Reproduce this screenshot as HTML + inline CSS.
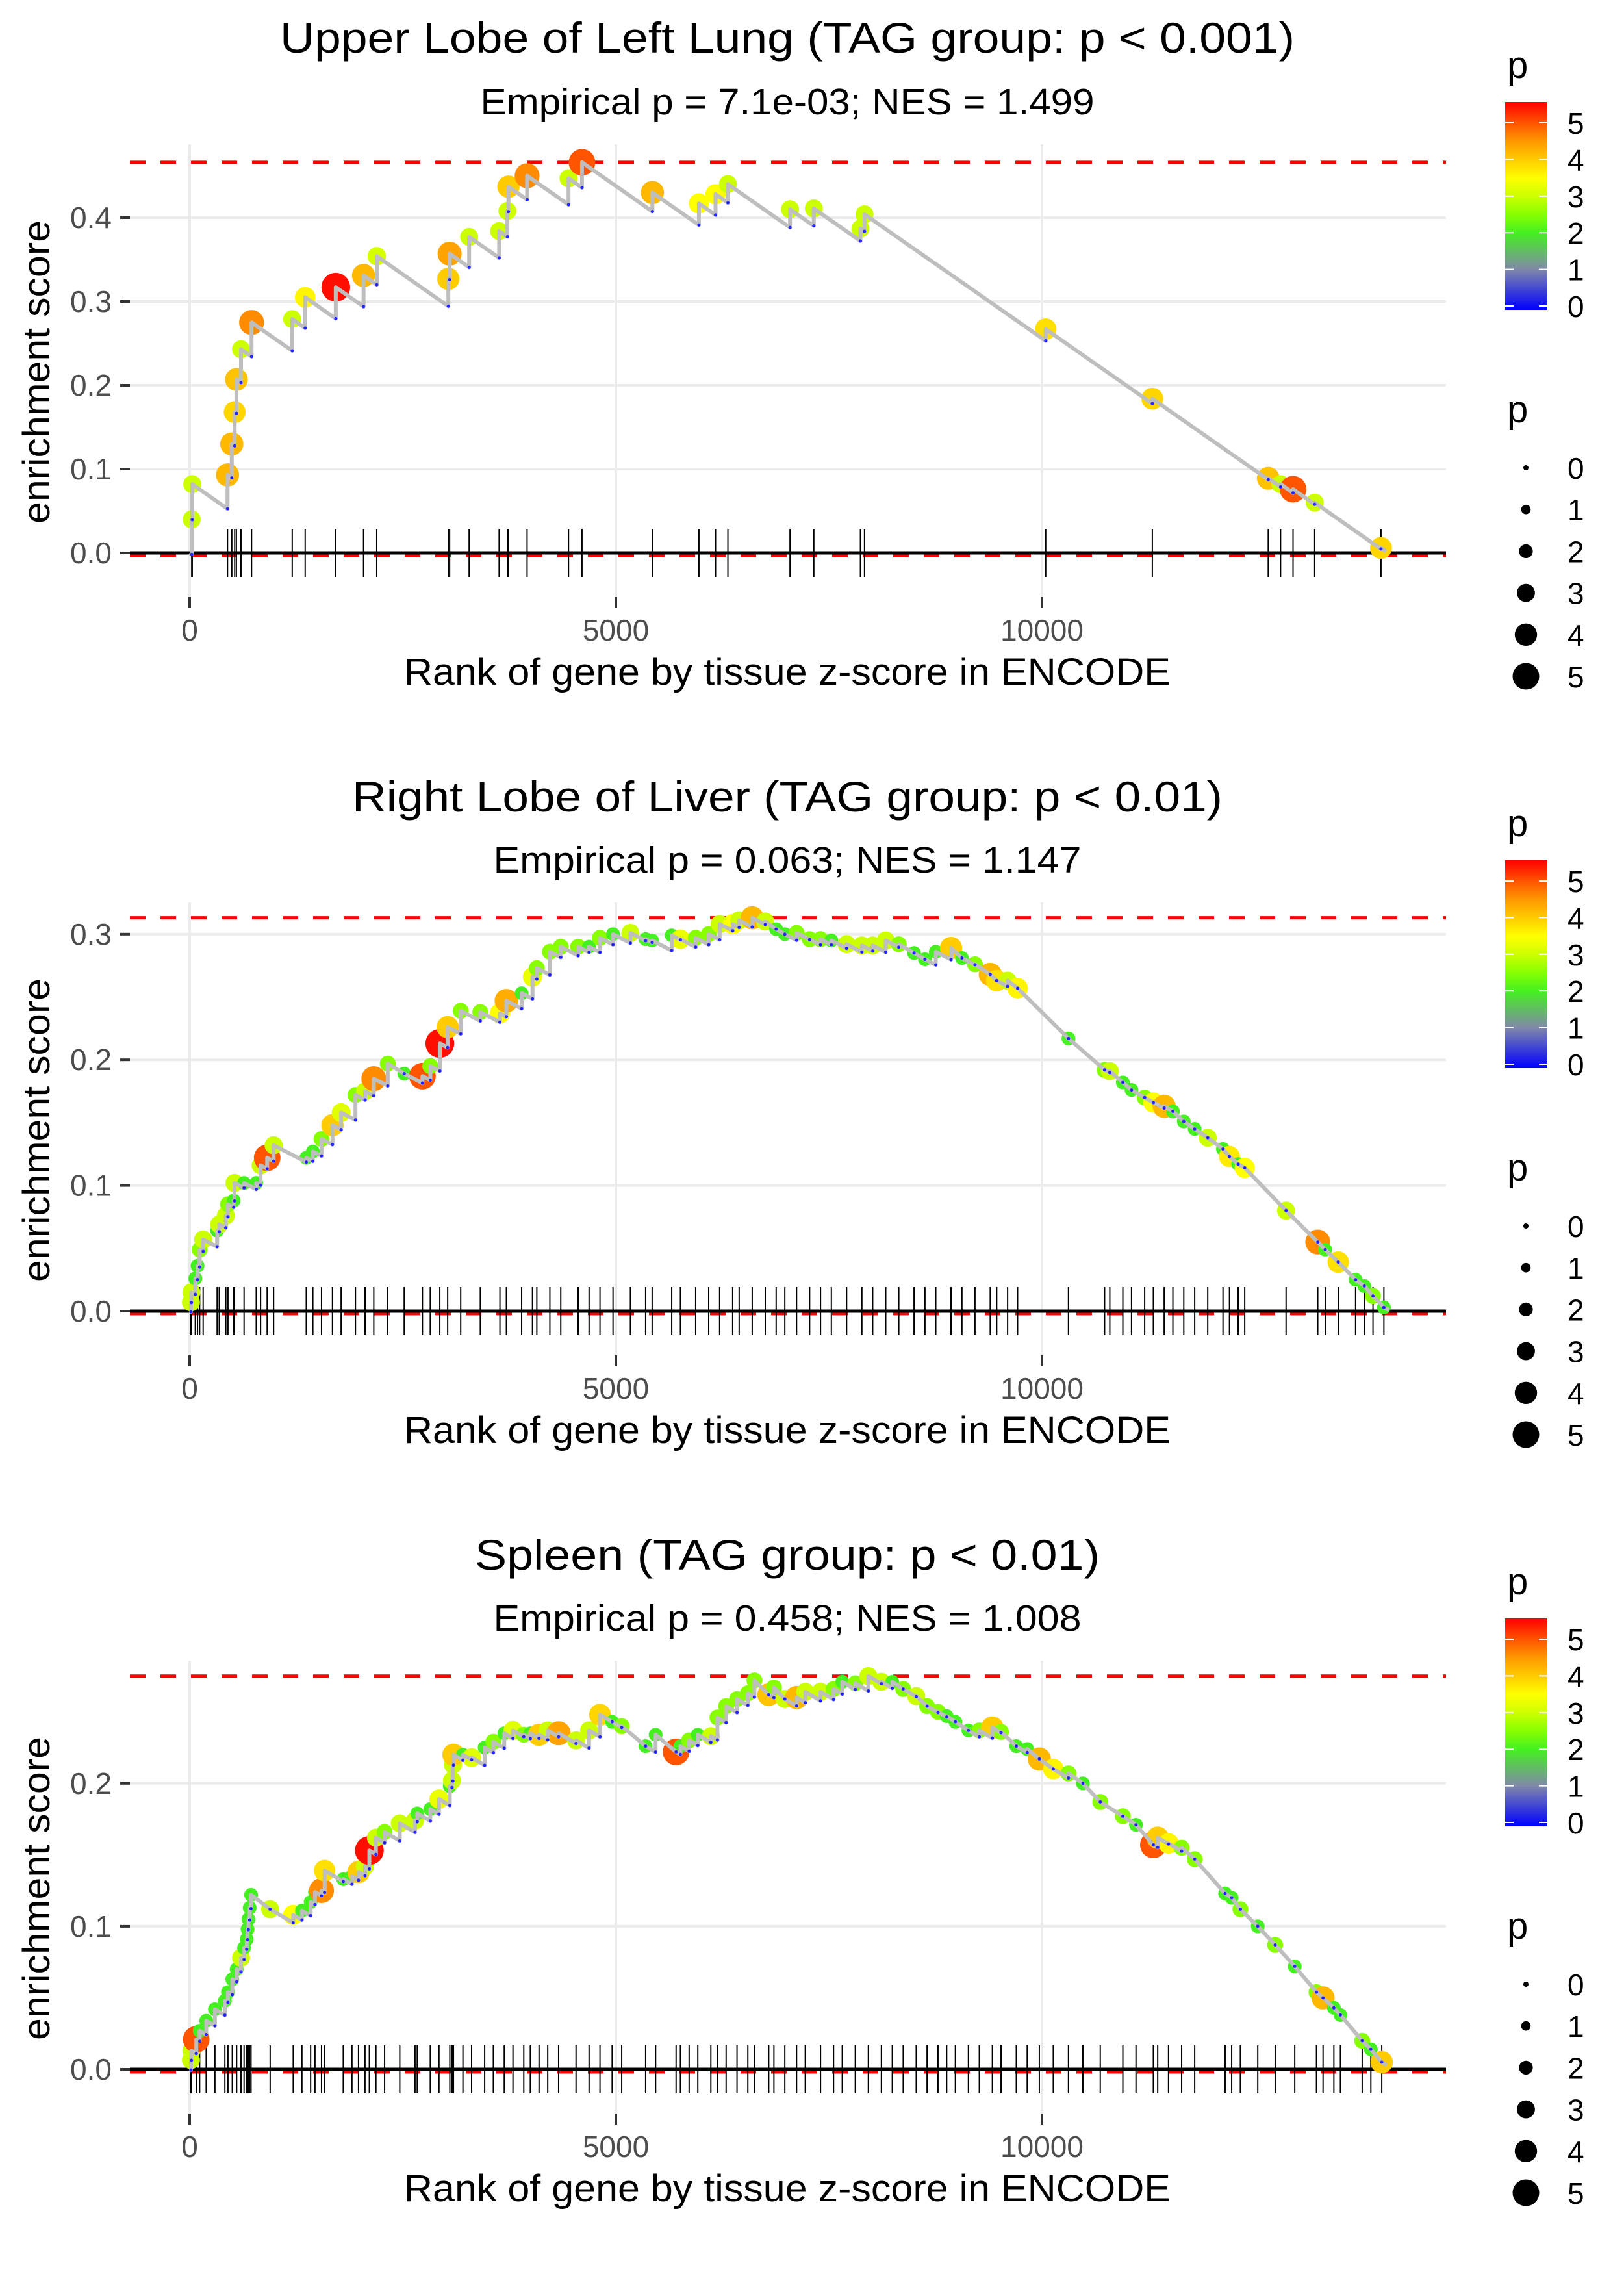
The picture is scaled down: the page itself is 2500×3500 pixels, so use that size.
<!DOCTYPE html>
<html><head><meta charset="utf-8"><title>GSEA enrichment plots</title>
<style>
html,body{margin:0;padding:0;background:#fff;}
svg{display:block;font-family:"Liberation Sans",Arial,sans-serif;}
.title{font-size:66px;fill:#000;}
.sub{font-size:57px;fill:#000;}
.axt{font-size:58px;fill:#000;}
.tick{font-size:46px;fill:#4d4d4d;}
.leg{font-size:46px;fill:#000;}
.legt{font-size:58px;fill:#000;}
</style></head>
<body>
<svg id="chart" width="2500" height="3500" viewBox="0 0 2500 3500" xmlns="http://www.w3.org/2000/svg">
<defs>
<linearGradient id="pgrad" x1="0" y1="1" x2="0" y2="0">
<stop offset="0" stop-color="#0000ff"/>
<stop offset="0.195" stop-color="#8088a8"/>
<stop offset="0.37" stop-color="#44f020"/>
<stop offset="0.46" stop-color="#88ff00"/>
<stop offset="0.546" stop-color="#ccff00"/>
<stop offset="0.634" stop-color="#ffff00"/>
<stop offset="0.722" stop-color="#ffcc00"/>
<stop offset="0.81" stop-color="#ff9900"/>
<stop offset="0.898" stop-color="#ff5500"/>
<stop offset="1" stop-color="#ff0000"/>
</linearGradient>
</defs>
<rect x="0" y="0" width="2500" height="3500" fill="#fff"/>

<text class="title" x="1212" y="81" text-anchor="middle" textLength="1562" lengthAdjust="spacingAndGlyphs">Upper Lobe of Left Lung (TAG group: p &lt; 0.001)</text>
<text class="sub" x="1212" y="176" text-anchor="middle" textLength="945" lengthAdjust="spacingAndGlyphs">Empirical p = 7.1e-03; NES = 1.499</text>
<text class="title" x="1212" y="1249" text-anchor="middle" textLength="1340" lengthAdjust="spacingAndGlyphs">Right Lobe of Liver (TAG group: p &lt; 0.01)</text>
<text class="sub" x="1212" y="1343" text-anchor="middle" textLength="905" lengthAdjust="spacingAndGlyphs">Empirical p = 0.063; NES = 1.147</text>
<text class="title" x="1212" y="2416" text-anchor="middle" textLength="962" lengthAdjust="spacingAndGlyphs">Spleen (TAG group: p &lt; 0.01)</text>
<text class="sub" x="1212" y="2510" text-anchor="middle" textLength="905" lengthAdjust="spacingAndGlyphs">Empirical p = 0.458; NES = 1.008</text>

<g id="panels"></g>
</svg>
<script>
// ---- Panel 1: Upper Lobe of Left Lung ----
const p1Ranks = [24,30,444,494,528,548,602,726,1203,1355,1714,2040,2195,3035,3050,3279,3631,3728,3740,3959,4445,4603,5429,5975,6170,6315,7044,7323,7870,7918,10044,11295,12655,12800,12946,13200,13978];
const p1ES = [.040,.082,.093,.130,.168,.207,.243,.275,.279,.305,.317,.331,.354,.327,.357,.377,.384,.408,.437,.450,.447,.466,.430,.417,.428,.440,.410,.411,.387,.404,.267,.184,.089,.082,.076,.060,.006];
const p1P = [3,3,4.2,4.2,3.9,4.1,3,4.6,3,3.6,5.5,4.2,3.1,4,4.4,3,3,3,4,4.6,3,5,4.2,3.5,3.5,3,3,3,3,3,3.8,3.9,4.1,3,5,3,3.9];
const p1YTicks = [0,0.1,0.2,0.3,0.4];

// ---- Panel 2: Right Lobe of Liver ----
const p2Ranks = [15,20,66,92,117,158,322,347,424,449,516,526,638,781,832,909,985,1368,1445,1547,1675,1777,1945,2058,2160,2324,2517,2731,2823,2935,3027,3180,3410,3640,3716,3895,4022,4073,4226,4354,4558,4686,4814,4967,5171,5350,5426,5656,5758,5937,6090,6218,6371,6447,6600,6753,6881,6983,7121,7274,7402,7529,7708,7887,8014,8167,8320,8499,8627,8754,8933,9061,9214,9393,9469,9597,9714,10311,10735,10796,10949,11051,11205,11307,11434,11536,11664,11792,11945,12124,12200,12302,12379,12864,13236,13323,13476,13680,13782,13884,14012];
const p2ES = [.007,.015,.026,.036,.049,.057,.064,.069,.076,.085,.088,.102,.102,.102,.116,.122,.132,.122,.127,.137,.148,.158,.172,.175,.185,.197,.189,.187,.195,.213,.226,.239,.238,.237,.247,.253,.266,.273,.286,.290,.290,.290,.297,.300,.301,.296,.295,.299,.296,.297,.300,.308,.308,.311,.313,.310,.304,.300,.301,.296,.296,.295,.292,.291,.291,.295,.292,.285,.280,.286,.289,.281,.276,.268,.263,.263,.257,.217,.192,.191,.182,.176,.170,.166,.163,.159,.151,.145,.138,.129,.123,.117,.114,.080,.055,.049,.039,.025,.020,.012,.003];
const p2P = [3,3,2,2,2.5,3,2,3,3,2.5,2,3,2,2,3,5,3,2,2,2.5,4,3.2,2.5,3,4.6,2.5,2,5,2.5,5.5,4,2.5,2.5,3.5,4.3,2,3.3,2.5,2.5,2.5,2.5,2,2.5,2,3,2,2,2,3.3,2.5,2.5,3,3.5,3,4.2,3,2,2,2.5,2.5,2.5,2,3,3,3,3,2.5,2,2,2,4,2,2.5,4.2,3.8,3,3.6,2,2.5,3,2,2,2.5,3.5,4.2,2,2,2,3,2,3.7,2,3.5,3,4.6,2,3.8,2,2,2.5,2];
const p2YTicks = [0,0.1,0.2,0.3];

// ---- Panel 3: Spleen ----
const p3Ranks = [15,20,77,117,194,296,413,449,500,551,602,638,669,679,689,704,720,944,1215,1317,1419,1470,1547,1583,1802,1904,1981,2057,2108,2185,2287,2465,2644,2670,2823,2925,3052,3078,3088,3095,3206,3308,3461,3563,3691,3793,3920,3997,4099,4201,4329,4533,4686,4814,4957,5069,5350,5467,5707,5758,5860,5962,6115,6192,6294,6422,6549,6626,6794,6855,6983,7121,7223,7402,7555,7657,7810,7963,8116,8244,8372,8525,8652,8780,8882,8984,9137,9265,9418,9520,9699,9827,9969,10133,10311,10480,10684,10949,11103,11307,11358,11485,11639,11792,12149,12226,12328,12532,12736,12966,13221,13298,13425,13502,13757,13859,13987];
const p3ES = [.0065,.013,.021,.027,.034,.042,.048,.054,.063,.070,.078,.085,.091,.098,.105,.113,.122,.112,.108,.111,.117,.124,.125,.139,.133,.135,.138,.142,.153,.162,.166,.172,.174,.179,.182,.189,.198,.202,.213,.220,.220,.218,.225,.229,.235,.237,.234,.235,.234,.237,.235,.230,.237,.248,.243,.240,.226,.234,.222,.226,.230,.234,.233,.246,.254,.259,.263,.272,.262,.267,.259,.260,.264,.264,.266,.271,.270,.275,.271,.271,.266,.261,.254,.250,.247,.243,.237,.237,.239,.236,.226,.224,.217,.210,.207,.200,.187,.177,.171,.157,.162,.158,.155,.147,.123,.120,.112,.100,.087,.072,.054,.050,.043,.038,.020,.014,.005];
const p3P = [3,3,5,2,2,2,2,2,2,2,3,2,2,2,2,2,2,3,3.5,2,2,2,4.6,3.8,2,2,4,3,5.5,3,2.5,3,3,2,2,3.3,2,3,3,4,2,3.2,2,2.5,2,3.2,2.5,2,4,3,4.4,3,3,3.9,2,2.5,2,2,5,2,2.5,2,3,2.5,2.5,2.5,2.5,2.5,4.1,2.5,3,4.2,3,3,2.5,2,2.5,3,3,2,2.5,3,2.5,2.5,2,2,2,2.5,4,2.5,2,2,4.2,3.6,2.5,2,2.5,2.5,2,5,4,3.6,2.5,2.5,2,2,2.5,2,2.5,2,2.5,4.2,2,2,2.5,2,4];
const p3YTicks = [0,0.1,0.2];

const xTicks = [0,5000,10000];
const xTickLabels = ["0","5000","10000"];
const legendValues = [0,1,2,3,4,5];

const NS = "http://www.w3.org/2000/svg";
const root = document.getElementById("panels");
function mk(tag, attrs, parent) {
  const e = document.createElementNS(NS, tag);
  for (const k in attrs) e.setAttribute(k, attrs[k]);
  (parent || root).appendChild(e);
  return e;
}
const X0 = 292, XPER = 0.1312, PLEFT = 200, PRIGHT = 2226;
function xScale(r) { return X0 + r * XPER; }

const stops = [[0,[0,0,255]],[1,[128,136,168]],[2,[68,240,32]],[2.5,[136,255,0]],[3,[204,255,0]],[3.5,[255,255,0]],[4,[255,204,0]],[4.5,[255,153,0]],[5,[255,85,0]],[5.6,[255,0,0]]];
function colorFor(p) {
  if (p <= stops[0][0]) return "rgb(0,0,255)";
  for (let i = 1; i < stops.length; i++) {
    if (p <= stops[i][0]) {
      const a = stops[i-1], b = stops[i], t = (p - a[0]) / (b[0] - a[0]);
      const c = a[1].map((v, j) => Math.round(v + (b[1][j] - v) * t));
      return "rgb(" + c.join(",") + ")";
    }
  }
  return "rgb(255,0,0)";
}
function radiusFor(p) { return 4 + 3.3 * p; }

const panels = [
  {ranks:p1Ranks, es:p1ES, p:p1P, ticks:p1YTicks, zeroY:851, unit:1290, top:222, bottom:919, slope:7.1e-5, id:"panel1"},
  {ranks:p2Ranks, es:p2ES, p:p2P, ticks:p2YTicks, zeroY:2018, unit:1934, top:1389, bottom:2086, slope:3.5e-5, id:"panel2"},
  {ranks:p3Ranks, es:p3ES, p:p3P, ticks:p3YTicks, zeroY:3185, unit:2201, top:2556, bottom:3253, slope:3.5e-5, id:"panel3"}
];

panels.forEach(function(P, k) {
  const yScale = function(v) { return P.zeroY - v * P.unit; };
  const g = mk("g", {});
  
  

  P.ticks.forEach(function(t) {
    const l = mk("line", {x1:PLEFT, x2:PRIGHT, y1:yScale(t), y2:yScale(t), stroke:"#ebebeb", "stroke-width":4}, g);
    
    
  });
  xTicks.forEach(function(t) {
    const l = mk("line", {x1:xScale(t), x2:xScale(t), y1:P.top, y2:P.bottom, stroke:"#ebebeb", "stroke-width":4}, g);
    
    
  });
  P.ticks.forEach(function(t) {
    const tl = mk("line", {x1:185, x2:200, y1:yScale(t), y2:yScale(t), stroke:"#333", "stroke-width":4}, g);
    
    
    const tx = mk("text", {x:172, y:yScale(t) + 16, "text-anchor":"end", class:"tick"}, g);
    
    
    tx.textContent = t.toFixed(1);
  });
  xTicks.forEach(function(t, i) {
    const tl = mk("line", {x1:xScale(t), x2:xScale(t), y1:P.bottom, y2:P.bottom + 17, stroke:"#333", "stroke-width":4}, g);
    
    
    const tx = mk("text", {x:xScale(t), y:P.bottom + 67, "text-anchor":"middle", class:"tick"}, g);
    
    
    tx.textContent = xTickLabels[i];
  });
  const xt = mk("text", {x:1212, y:P.bottom + 135, "text-anchor":"middle", class:"axt", textLength:1180, lengthAdjust:"spacingAndGlyphs"}, g);
  
  
  xt.textContent = "Rank of gene by tissue z-score in ENCODE";
  const ycy = (P.top + P.bottom) / 2 + 2;
  const yt = mk("text", {x:0, y:0, "text-anchor":"middle", class:"axt", textLength:467, lengthAdjust:"spacingAndGlyphs", transform:"translate(76," + ycy + ") rotate(-90)"}, g);
  
  
  yt.textContent = "enrichment score";

  const maxES = Math.max.apply(null, P.es);
  const dm = mk("line", {x1:PLEFT, x2:PRIGHT, y1:yScale(maxES), y2:yScale(maxES), stroke:"#ff0000", "stroke-width":5, "stroke-dasharray":"24 23"}, g);
  
  
  const dz = mk("line", {x1:PLEFT, x2:PRIGHT, y1:yScale(0) + 4, y2:yScale(0) + 4, stroke:"#ff0000", "stroke-width":5, "stroke-dasharray":"24 23"}, g);
  
  
  const zl = mk("line", {x1:PLEFT, x2:PRIGHT, y1:yScale(0), y2:yScale(0), stroke:"#000", "stroke-width":5}, g);
  
  
  P.ranks.forEach(function(r) {
    const rl = mk("line", {x1:xScale(r), x2:xScale(r), y1:yScale(0) - 37, y2:yScale(0) + 37, stroke:"#000", "stroke-width":2}, g);
    
    
  });

  let prevR = 0, prevE = 0;
  let d = "M" + xScale(0) + "," + yScale(0);
  const valleys = [];
  P.ranks.forEach(function(r, i) {
    let v = prevE - P.slope * (r - prevR);
    if (v > P.es[i]) v = P.es[i];
    valleys.push([r, v]);
    d += " L" + xScale(r) + "," + yScale(v) + " L" + xScale(r) + "," + yScale(P.es[i]);
    prevR = r; prevE = P.es[i];
  });
  d += " L" + xScale(prevR + 60) + "," + yScale(Math.max(0, prevE - P.slope * 60));

  P.ranks.forEach(function(r, i) {
    const c = mk("circle", {cx:xScale(r), cy:yScale(P.es[i]), r:radiusFor(P.p[i]), fill:colorFor(P.p[i])}, g);
    
    
  });
  const path = mk("path", {d:d, fill:"none", stroke:"#bebebe", "stroke-width":6, "stroke-linejoin":"round"}, g);
  
  
  valleys.forEach(function(v) {
    const c = mk("circle", {cx:xScale(v[0]), cy:yScale(v[1]), r:2.5, fill:"#2222ff"}, g);
    
    
  });

  const off = k * 1167;
  const lg = mk("g", {});
  
  
  const ct = mk("text", {x:2320, y:120 + off, class:"legt"}, lg);
  
  
  ct.textContent = "p";
  const bar = mk("rect", {x:2317, y:157 + off, width:65, height:320, fill:"url(#pgrad)"}, lg);
  
  
  legendValues.forEach(function(v) {
    const ty = 471 - v * 56.4 + off;
    const a = mk("line", {x1:2317, x2:2330, y1:ty, y2:ty, stroke:"#fff", "stroke-width":2}, lg);
    
    
    const b = mk("line", {x1:2369, x2:2382, y1:ty, y2:ty, stroke:"#fff", "stroke-width":2}, lg);
    
    
    const t = mk("text", {x:2413, y:ty + 17, class:"leg"}, lg);
    
    
    t.textContent = String(v);
  });
  const st = mk("text", {x:2320, y:650 + off, class:"legt"}, lg);
  
  
  st.textContent = "p";
  legendValues.forEach(function(v, i) {
    const cy = 720 + i * 64.2 + off;
    const c = mk("circle", {cx:2349, cy:cy, r:radiusFor(v), fill:"#000"}, lg);
    
    
    const t = mk("text", {x:2413, y:cy + 17, class:"leg"}, lg);
    
    
    t.textContent = String(v);
  });
});
</script>
</body></html>
